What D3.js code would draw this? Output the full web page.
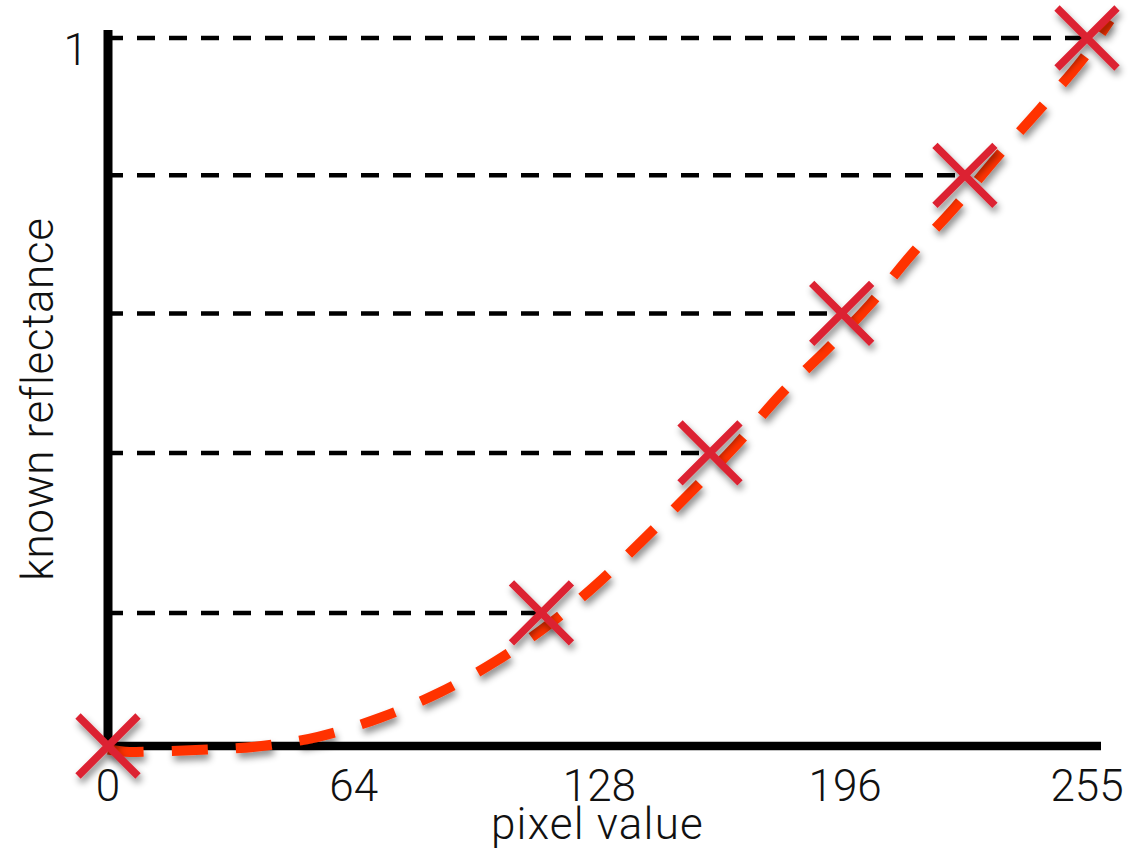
<!DOCTYPE html>
<html>
<head>
<meta charset="utf-8">
<script src="https://cdn.jsdelivr.net/npm/d3@7"></script>
<style>
  html, body { margin: 0; padding: 0; background: #fff; }
  svg { display: block; }
  text { font-family: Roboto, "Liberation Sans", Arial, sans-serif; font-weight: 300; fill: #111; }
</style>
</head>
<body>
<svg id="chart" width="1145" height="851"></svg>
<script>
// ---- data ----
const xTickValues = [0, 64, 128, 192, 255];
const xTickLabels = ["0", "64", "128", "196", "255"];
const yTickValues = [1];
const yTickLabels = ["1"];
const xTitle = "pixel value";
const yTitle = "known reflectance";

// calibration measurements (pixel value, known reflectance)
const measPixel = [0, 112.9, 156.8, 191.1, 223.2, 255];
const measRefl  = [0, 0.188, 0.414, 0.611, 0.806, 1.0];

// fitted response curve
const curvePixel = [0, 4.4, 21.4, 38.3, 54.7, 70.9, 86.5, 101.1, 114.9, 127.6, 139.9, 151.9, 163.6, 175.8, 187.0, 198.5, 209.4, 220.6, 231.6, 242.8, 253.7, 261];
const curveRefl  = [-0.005, -0.008, -0.006, -0.001, 0.013, 0.040, 0.076, 0.120, 0.172, 0.230, 0.294, 0.359, 0.425, 0.500, 0.559, 0.624, 0.695, 0.761, 0.832, 0.900, 0.969, 1.025];

// ---- drawing ----
const svg = d3.select("#chart");
const x = d3.scaleLinear().domain([0, 255]).range([108, 1087]);
const y = d3.scaleLinear().domain([0, 1]).range([746, 38]);

const defs = svg.append("defs");
const f = defs.append("filter").attr("id", "shadow")
  .attr("x", "-50%").attr("y", "-50%").attr("width", "200%").attr("height", "200%");
f.append("feDropShadow").attr("dx", 2).attr("dy", 5).attr("stdDeviation", 3.5)
  .attr("flood-color", "#000").attr("flood-opacity", 0.45);

// horizontal dashed guide lines from axis to each measurement
const meas = measPixel.map((p, i) => ({ p, r: measRefl[i] }));
svg.append("g").selectAll("line").data(meas.filter(d => d.r > 0)).join("line")
  .attr("x1", x(0) + 4).attr("x2", d => x(d.p) + 2)
  .attr("y1", d => y(d.r)).attr("y2", d => y(d.r))
  .attr("stroke", "#000").attr("stroke-width", 4.5)
  .attr("stroke-dasharray", "18,14").attr("stroke-dashoffset", 7);

// axes
svg.append("line")
  .attr("x1", x(0)).attr("x2", x(0))
  .attr("y1", y(1) - 8).attr("y2", y(0) + 4)
  .attr("stroke", "#000").attr("stroke-width", 9);
svg.append("line")
  .attr("x1", x(0) - 4).attr("x2", x(255) + 14)
  .attr("y1", y(0)).attr("y2", y(0))
  .attr("stroke", "#000").attr("stroke-width", 8.5);

// tick labels
svg.append("g").selectAll("text").data(xTickValues).join("text")
  .attr("x", d => x(d)).attr("y", y(0) + 55)
  .attr("text-anchor", "middle").attr("font-size", 44)
  .text((d, i) => xTickLabels[i]);
svg.append("g").selectAll("text").data(yTickValues).join("text")
  .attr("x", x(0) - 20).attr("y", d => y(d) + 27)
  .attr("text-anchor", "end").attr("font-size", 44)
  .text((d, i) => yTickLabels[i]);

// titles
svg.append("text")
  .attr("x", (x(0) + x(255)) / 2).attr("y", y(0) + 93)
  .attr("text-anchor", "middle").attr("font-size", 44)
  .attr("letter-spacing", 1.2)
  .text(xTitle);
svg.append("text")
  .attr("transform", `translate(53, ${y(0.49)}) rotate(-90)`)
  .attr("text-anchor", "middle").attr("font-size", 44)
  .attr("letter-spacing", 0.6)
  .text(yTitle);

// fitted curve
const curve = curvePixel.map((p, i) => [x(p), y(curveRefl[i])]);
svg.append("path")
  .attr("d", d3.line().curve(d3.curveCatmullRom)(curve))
  .attr("fill", "none").attr("stroke", "#ff3300").attr("stroke-width", 10)
  .attr("stroke-dasharray", "36,28").attr("filter", "url(#shadow)");

// measurement crosses
const arm = 30;
const crosses = svg.append("g").attr("filter", "url(#shadow)");
crosses.selectAll("path").data(meas).join("path")
  .attr("d", d => {
    const cx = x(d.p), cy = y(d.r);
    return `M${cx - arm},${cy - arm}L${cx + arm},${cy + arm}M${cx - arm},${cy + arm}L${cx + arm},${cy - arm}`;
  })
  .attr("stroke", "#dc2332").attr("stroke-width", 7.5).attr("fill", "none");
</script>
</body>
</html>
